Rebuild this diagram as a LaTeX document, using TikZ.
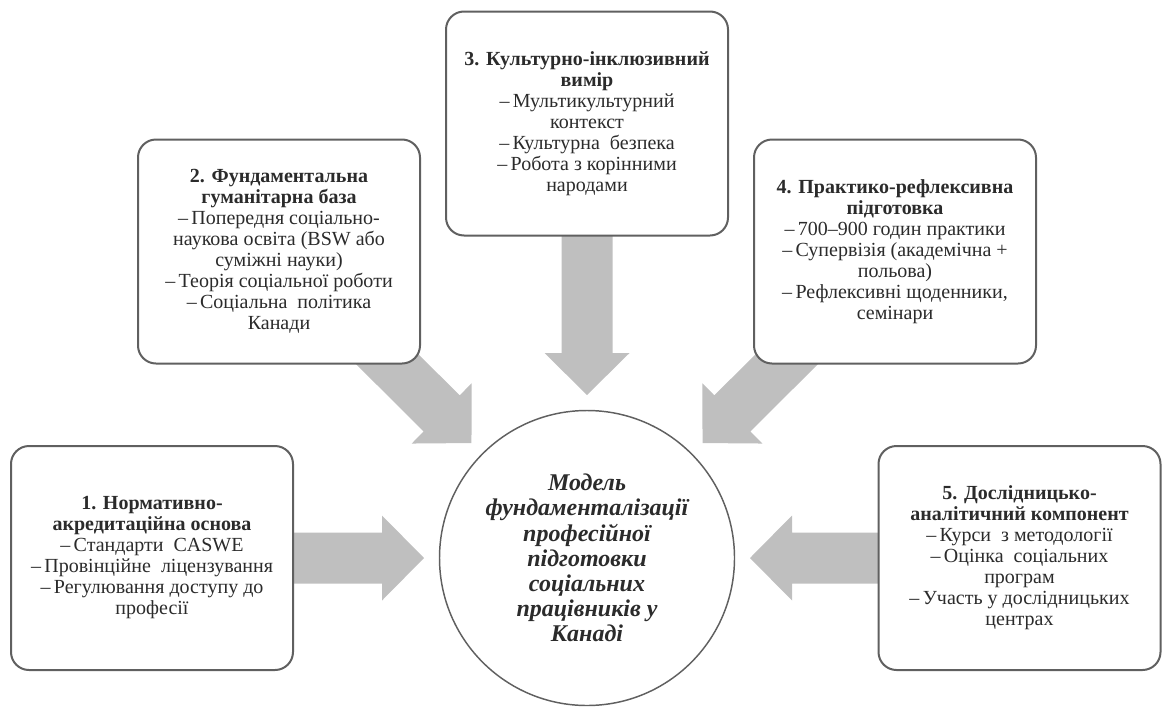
\documentclass[tikz,border=0pt]{standalone}
\usepackage{fontspec}
\setmainfont{Liberation Serif}
\usetikzlibrary{calc,backgrounds}

\definecolor{framegray}{HTML}{606060}
\definecolor{arrowgray}{HTML}{BFBFBF}
\definecolor{textgray}{HTML}{2B2B2B}

\newcommand\boxfont{\fontsize{15}{15.75}\selectfont}
\newcommand\hubfont{\fontsize{18}{18.9}\selectfont\bfseries\itshape}

% the paragraph is closed inside the node so that its own line pitch applies
\tikzset{
  stagebox/.style={draw=framegray, line width=1.5pt, fill=white,
    rounded corners=13.5pt, minimum width=211.5pt, minimum height=168pt,
    align=center, text=textgray, inner sep=0pt, font=\boxfont,
    execute at end node=\par},
  hub/.style={circle, draw=framegray, line width=1.1pt, fill=white,
    minimum size=221.25pt, align=center, text=textgray, inner sep=0pt,
    font=\hubfont, execute at end node=\par},
  arrowshape/.style={fill=arrowgray, draw=none},
}

% wide block arrow from the centre of a box (#1) to a tip point (#2)
\newcommand\blockarrow[2]{%
  \coordinate (ab) at ($(#2)!31.5pt!(#1)$);
  \fill[arrowshape]
    ($(#1)!19.125pt!90:(#2)$) -- ($(ab)!19.125pt!90:(#2)$)
    -- ($(ab)!31.875pt!90:(#2)$) -- (#2)
    -- ($(ab)!31.875pt!-90:(#2)$) -- ($(ab)!19.125pt!-90:(#2)$)
    -- ($(#1)!19.125pt!-90:(#2)$) -- cycle;
}

\begin{document}
\begin{tikzpicture}[x=0.75pt, y=-0.75pt]
  \useasboundingbox (0,0) rectangle (1162,707);

  \node[stagebox] (b1) at (152,558) {%
    \textbf{1. Нормативно-}\\
    \textbf{акредитаційна основа}\\
    –\,Стандарти\ \ CASWE\\
    –\,Провінційне\ \ ліцензування\\
    –\,Регулювання доступу до\\
    професії};

  \node[stagebox] (b2) at (279,251.5) {%
    \textbf{2. Фундаментальна}\\
    \textbf{гуманітарна база}\\
    –\,Попередня соціально-\\
    наукова освіта (BSW або\\
    суміжні науки)\\
    –\,Теорія соціальної роботи\\
    –\,Соціальна\ \ політика\\
    Канади};

  \node[stagebox] (b3) at (587,123.5) {%
    \textbf{3. Культурно-інклюзивний}\\
    \textbf{вимір}\\
    –\,Мультикультурний\\
    контекст\\
    –\,Культурна\ \ безпека\\
    –\,Робота з корінними\\
    народами};

  \node[stagebox] (b4) at (895,251.5) {%
    \textbf{4. Практико-рефлексивна}\\
    \textbf{підготовка}\\
    –\,700–900 годин практики\\
    –\,Супервізія (академічна +\\
    польова)\\
    –\,Рефлексивні щоденники,\\
    семінари};

  \node[stagebox] (b5) at (1019.5,558) {%
    \textbf{5. Дослідницько-}\\
    \textbf{аналітичний компонент}\\
    –\,Курси\ \ з методології\\
    –\,Оцінка\ \ соціальних\\
    програм\\
    –\,Участь у дослідницьких\\
    центрах};

  \node[hub] (hub) at (587,558) {%
    Модель\\
    фундаменталізації\\
    професійної\\
    підготовки\\
    соціальних\\
    працівників у\\
    Канаді};

  % arrow tips sit just outside the circle, on the line to each box
  \foreach \b in {b1,b2,b3,b4,b5}
    \coordinate (tip-\b) at ($(hub.center)!122.25pt!(\b.center)$);

  \begin{pgfonlayer}{background}
    \blockarrow{b1.center}{tip-b1}
    \blockarrow{b2.center}{tip-b2}
    \blockarrow{b3.center}{tip-b3}
    \blockarrow{b4.center}{tip-b4}
    \blockarrow{b5.center}{tip-b5}
  \end{pgfonlayer}
\end{tikzpicture}
\end{document}
